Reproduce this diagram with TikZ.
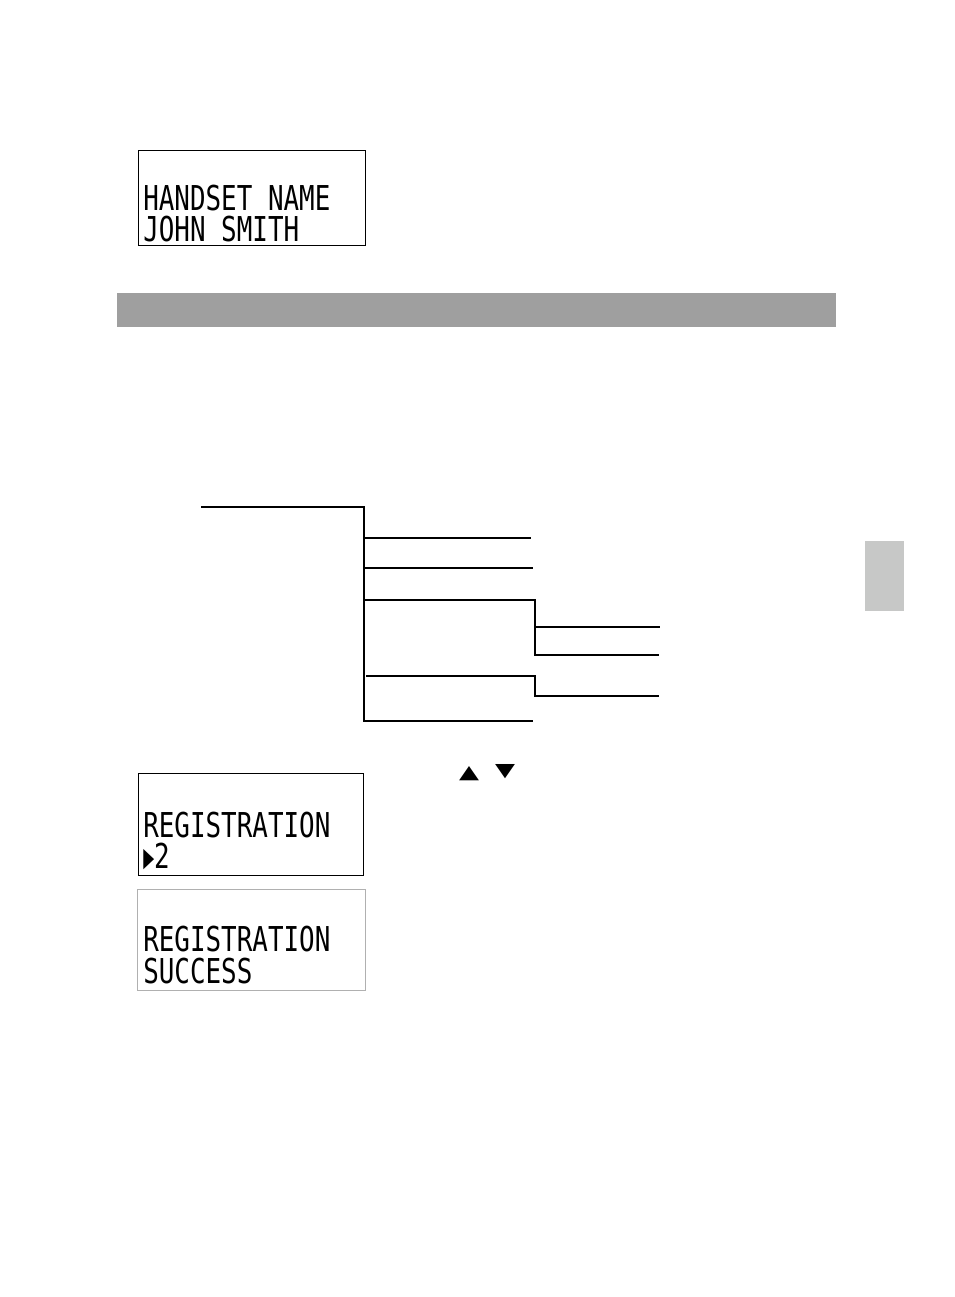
\documentclass[tikz,border=0pt]{standalone}
\usepackage{fontspec}
\newfontfamily\lcdfont{DejaVu Sans Mono}
\newfontfamily\symfont{DejaVu Sans}
\newcommand\lcdtxt[1]{\scalebox{0.756}[1]{#1}}
\definecolor{bargray}{HTML}{9F9F9F}
\definecolor{tabgray}{HTML}{C7C8C7}
\definecolor{boxgray}{HTML}{B0B0B0}
\begin{document}
\begin{tikzpicture}[x=0.75pt,y=-0.75pt,
  lcd/.style={draw=black,line width=1pt,anchor=north west,inner sep=0pt},
  lcdtext/.style={anchor=base west,inner sep=0pt,text height=18.5pt,text depth=0pt,font=\lcdfont\fontsize{25.7}{27}\selectfont},
  tree/.style={line width=1.1pt},
  keysym/.style={inner sep=0pt,font=\symfont\fontsize{19.5}{20}\selectfont}]
\useasboundingbox (0,0) rectangle (954,1297);
% first display
\node[lcd,minimum width=170.25pt,minimum height=71.25pt] (lcd1) at (138,150) {};
\node[lcdtext] (l1a) at (143,210) {\lcdtxt{HANDSET NAME}};
\node[lcdtext] (l1b) at (143,241) {\lcdtxt{JOHN SMITH}};
% heading bar
\fill[bargray] (117,293) rectangle (836,327);
% side tab
\fill[tabgray] (865,541) rectangle (904,611);
% menu tree
\coordinate (r0) at (201,507);
\coordinate (t0) at (364,507);
\coordinate (t1) at (364,538);
\coordinate (e1) at (531,538);
\coordinate (t2) at (364,568);
\coordinate (e2) at (533,568);
\coordinate (t3) at (364,600);
\coordinate (e3) at (535,600);
\coordinate (s3a) at (535,627);
\coordinate (f3a) at (660,627);
\coordinate (s3b) at (535,655);
\coordinate (f3b) at (659,655);
\coordinate (t4) at (366,676);
\coordinate (e4) at (535,676);
\coordinate (s4a) at (535,696);
\coordinate (f4a) at (659,696);
\coordinate (t5) at (364,721);
\coordinate (e5) at (533,721);
\draw[tree] (r0) -- (t0) -- (t5) -- (e5);
\draw[tree] (t1) -- (e1);
\draw[tree] (t2) -- (e2);
\draw[tree] (t3) -- (e3) -- (s3b) -- (f3b);
\draw[line width=1.9pt] (s3a) -- (f3a);
\draw[tree] (t4) -- (e4) -- (s4a) -- (f4a);
% keys
\node[keysym] (up) at (469,774) {\scalebox{1}[0.72]{▲}};
\node[keysym] (down) at (505,772) {\scalebox{1}[0.72]{▼}};
% second display
\node[lcd,minimum width=168.75pt,minimum height=76.5pt] (lcd2) at (138,773) {};
\node[lcdtext] (l2a) at (143,837) {\lcdtxt{REGISTRATION}};
\node[lcdtext] (l2b) at (143,868) {\lcdtxt{\scalebox{0.7}[1]{▶}2}};
% third display
\node[lcd,draw=boxgray,line width=0.8pt,minimum width=171pt,minimum height=75.75pt] (lcd3) at (137,889) {};
\node[lcdtext] (l3a) at (143,951) {\lcdtxt{REGISTRATION}};
\node[lcdtext] (l3b) at (143,983) {\lcdtxt{SUCCESS}};
\end{tikzpicture}
\end{document}
